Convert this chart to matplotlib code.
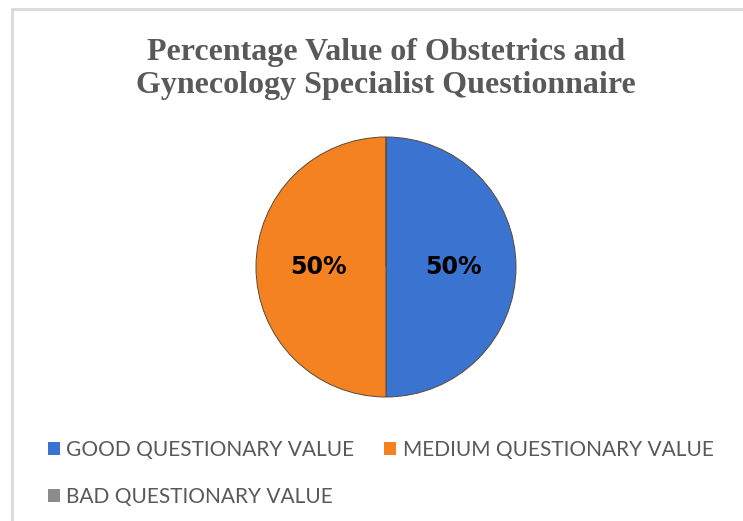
import matplotlib.pyplot as plt
from matplotlib.lines import Line2D
from matplotlib.patches import Patch

# dados do gráfico
categorias = ["GOOD QUESTIONARY VALUE", "MEDIUM QUESTIONARY VALUE", "BAD QUESTIONARY VALUE"]
valores = [50, 50, 0]
cores = ["#3A73D0", "#F58220", "#8C8C8C"]
titulo = "Percentage Value of Obstetrics and\nGynecology Specialist Questionnaire"

W, H = 743, 521
fig = plt.figure(figsize=(W / 100, H / 100), dpi=100)
fig.patch.set_facecolor("white")

# moldura cinza clara (só esquerda e topo aparecem no recorte)
fig.add_artist(Line2D([12 / W, 12 / W], [0, 1 - 9 / H], transform=fig.transFigure,
                      color="#D9D9D9", lw=2))
fig.add_artist(Line2D([12 / W, 1], [1 - 9 / H, 1 - 9 / H], transform=fig.transFigure,
                      color="#D9D9D9", lw=2))

# título
fig.text(386 / W, 1 - 69 / H, titulo, ha="center", va="center",
         fontsize=23, fontweight="bold", family="Liberation Serif",
         color="#595959", linespacing=1.22)

# pizza: centro (386, 267), raio 130 px
cx, cy, r = 386, 267, 130
ax = fig.add_axes([(cx - r) / W, (H - cy - r) / H, 2 * r / W, 2 * r / H])


def rotulo(p):
    return f"{p:.0f}%" if p > 0 else ""


wedges, _, autotexts = ax.pie(valores, colors=cores, startangle=90, counterclock=False,
                              autopct=rotulo, pctdistance=0.52,
                              wedgeprops=dict(edgecolor="#5A4A3A", linewidth=0.7))
for t in autotexts:
    t.set_fontsize(17)
    t.set_fontweight("bold")
    t.set_color("black")
ax.set_xlim(-1, 1)
ax.set_ylim(-1, 1)
ax.set_aspect("equal")

# legenda em ordem de linha (good, medium / bad)
ordem = [0, 2, 1]
handles = [Patch(facecolor=cores[i], edgecolor="none") for i in ordem]
leg = fig.legend(handles, [categorias[i] for i in ordem],
                 ncol=2, loc="upper left", bbox_to_anchor=(29 / W, 1 - 421 / H),
                 frameon=False, handlelength=0.6, handleheight=0.6,
                 handletextpad=0.3, columnspacing=1.4, labelspacing=1.3,
                 prop={"family": "Lato", "size": 15})
for t in leg.get_texts():
    t.set_color("#595959")

fig.savefig("out.png", dpi=100)
